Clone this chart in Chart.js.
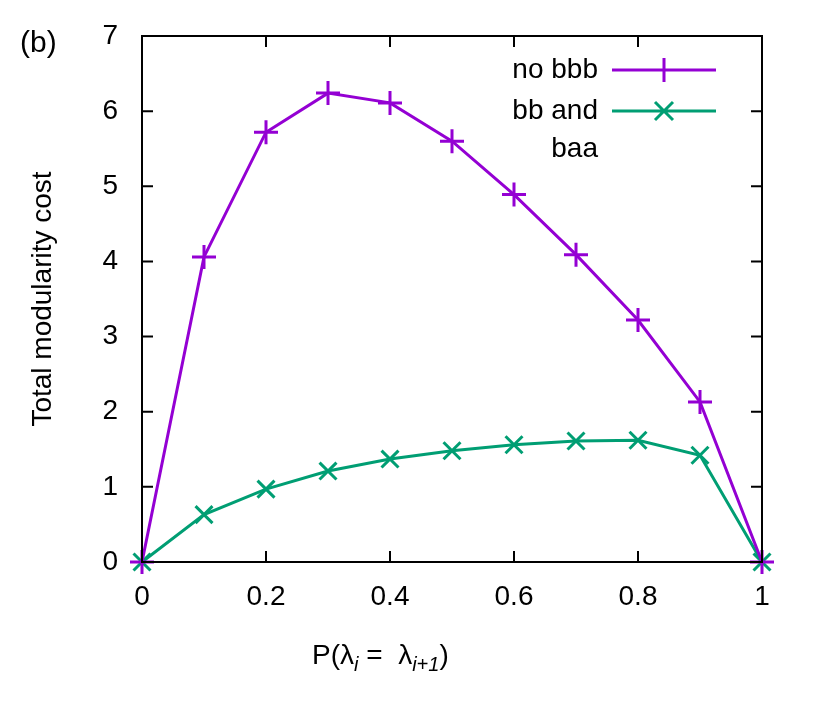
<!DOCTYPE html>
<html>
<head>
<meta charset="utf-8">
<script src="https://cdn.jsdelivr.net/npm/chart.js@4/dist/chart.umd.min.js"></script>
<style>body{margin:0;background:#fff}</style>
</head>
<body>
<canvas id="c" width="830" height="723"></canvas>
<script>
var xValues = [0, 0.1, 0.2, 0.3, 0.4, 0.5, 0.6, 0.7, 0.8, 0.9, 1];
var noBbb = [0, 4.06, 5.72, 6.24, 6.11, 5.6, 4.89, 4.09, 3.22, 2.13, 0];
var bbAndBaa = [0, 0.63, 0.97, 1.21, 1.37, 1.48, 1.56, 1.61, 1.62, 1.42, 0];
var xTicks = [0, 0.2, 0.4, 0.6, 0.8, 1];
var yTicks = [0, 1, 2, 3, 4, 5, 6, 7];

var PURPLE = '#9400d3', GREEN = '#009e73';
var FONT = 'Liberation Sans, Arial, sans-serif';

function pts(ys) {
  return xValues.map(function(x, i){ return {x: x, y: ys[i]}; });
}

var frame = {
  id: 'frame',
  afterDraw: function(chart) {
    var c = chart.ctx, a = chart.chartArea;
    var xs = chart.scales.x, ys = chart.scales.y;
    c.save();
    c.strokeStyle = '#000'; c.lineWidth = 2;
    c.strokeRect(a.left, a.top, a.right - a.left, a.bottom - a.top);
    c.beginPath();
    xTicks.forEach(function(v){
      var p = xs.getPixelForValue(v);
      c.moveTo(p, a.bottom); c.lineTo(p, a.bottom - 11);
      c.moveTo(p, a.top); c.lineTo(p, a.top + 11);
    });
    yTicks.forEach(function(v){
      var p = ys.getPixelForValue(v);
      c.moveTo(a.left, p); c.lineTo(a.left + 11, p);
      c.moveTo(a.right, p); c.lineTo(a.right - 11, p);
    });
    c.stroke();

    // legend
    c.fillStyle = '#000';
    c.font = '28px ' + FONT;
    c.textAlign = 'right'; c.textBaseline = 'middle';
    c.fillText('no bbb', 598, 70);
    c.fillText('bb and', 598, 111);
    c.fillText('baa', 598, 149);
    c.lineWidth = 3;
    c.strokeStyle = PURPLE;
    c.beginPath(); c.moveTo(612, 70); c.lineTo(716, 70);
    c.moveTo(664, 58); c.lineTo(664, 82); c.moveTo(652, 70); c.lineTo(676, 70);
    c.stroke();
    c.strokeStyle = GREEN;
    c.beginPath(); c.moveTo(612, 111); c.lineTo(716, 111);
    c.moveTo(655, 102); c.lineTo(673, 120); c.moveTo(673, 102); c.lineTo(655, 120);
    c.stroke();

    // panel label
    c.textAlign = 'left';
    c.font = '30px ' + FONT;
    c.fillText('(b)', 20, 44);

    // x title
    c.textBaseline = 'alphabetic';
    var x = 312, y = 664;
    function put(t, f, dy) { c.font = f; c.fillText(t, x, y + (dy || 0)); x += c.measureText(t).width; }
    put('P(λ', '28px ' + FONT);
    put('i', 'italic 20px ' + FONT, 7);
    put(' =  λ', '28px ' + FONT);
    put('i+1', 'italic 20px ' + FONT, 7);
    put(')', '28px ' + FONT);
    c.restore();
  }
};

new Chart(document.getElementById('c'), {
  type: 'line',
  data: {
    datasets: [
      { data: pts(noBbb), borderColor: PURPLE, backgroundColor: PURPLE, borderWidth: 3, clip: false,
        pointStyle: 'cross', pointRadius: 12, pointBorderWidth: 3, tension: 0 },
      { data: pts(bbAndBaa), borderColor: GREEN, backgroundColor: GREEN, borderWidth: 3, clip: false,
        pointStyle: 'crossRot', pointRadius: 12, pointBorderWidth: 3, tension: 0 }
    ]
  },
  options: {
    responsive: false, animation: false,
    layout: { padding: { top: 36, right: 68, left: 22, bottom: 0 } },
    plugins: { legend: { display: false }, tooltip: { enabled: false } },
    scales: {
      x: {
        type: 'linear', min: 0, max: 1,
        afterBuildTicks: function(s){ s.ticks = xTicks.map(function(v){ return {value: v}; }); },
        afterFit: function(s){ s.height = 161; },
        grid: { display: false }, border: { display: false },
        ticks: { color: '#000', font: { size: 28, family: FONT }, padding: 10,
          callback: function(v){ return String(v); } }
      },
      y: {
        min: 0, max: 7,
        afterBuildTicks: function(s){ s.ticks = yTicks.map(function(v){ return {value: v}; }); },
        afterFit: function(s){ s.width = 120; },
        grid: { display: false }, border: { display: false },
        title: { display: true, text: 'Total modularity cost', color: '#000',
          font: { size: 28, family: FONT }, padding: { bottom: 14 } },
        ticks: { color: '#000', font: { size: 28, family: FONT }, padding: 16 }
      }
    }
  },
  plugins: [frame]
});
</script>
</body>
</html>
